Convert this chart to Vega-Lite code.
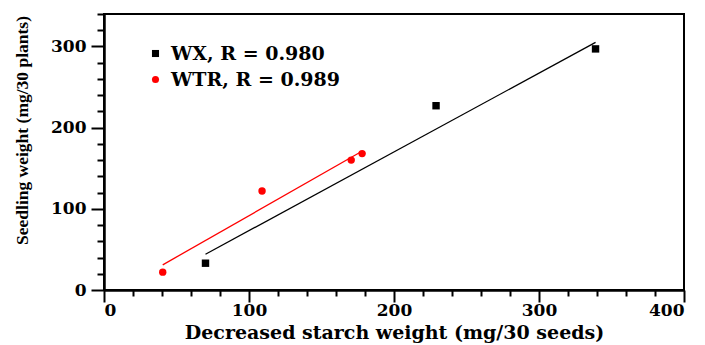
{
  "$schema": "https://vega.github.io/schema/vega-lite/v6.json",
  "width": 580,
  "height": 276,
  "autosize": "none",
  "padding": {"left": 104, "top": 14, "right": 21, "bottom": 55},
  "background": "white",
  "config": {
    "view": {"stroke": "black", "strokeWidth": 2},
    "axis": {
      "grid": false,
      "domainColor": "black",
      "domainWidth": 2.5,
      "tickColor": "black",
      "tickWidth": 2,
      "labelFont": "DejaVu Serif",
      "labelFontWeight": "bold",
      "labelFontSize": 17,
      "labelColor": "black",
      "labelOverlap": false,
      "labelBound": false,
      "titleFont": "Liberation Serif",
      "titleFontWeight": "bold",
      "titleColor": "black"
    }
  },
  "datasets": {
    "pts": [
      {"set": "WX", "x": 70, "y": 33},
      {"set": "WX", "x": 229, "y": 227},
      {"set": "WX", "x": 339, "y": 297},
      {"set": "WTR", "x": 40.5, "y": 22},
      {"set": "WTR", "x": 109, "y": 122},
      {"set": "WTR", "x": 170.5, "y": 160},
      {"set": "WTR", "x": 178, "y": 168}
    ],
    "fits": [
      {"set": "WX", "x": 70, "y": 44},
      {"set": "WX", "x": 339, "y": 305},
      {"set": "WTR", "x": 40.5, "y": 31},
      {"set": "WTR", "x": 177, "y": 170}
    ]
  },
  "encoding": {
    "x": {
      "field": "x",
      "type": "quantitative",
      "scale": {"domain": [0, 400], "nice": false, "zero": false},
      "axis": {
        "values": [0,20,40,60,80,100,120,140,160,180,200,220,240,260,280,300,320,340,360,380,400],
        "labelExpr": "(datum.value % 100 === 0) ? datum.label : ''",
        "tickSize": {"condition": {"test": "datum.value % 100 === 0", "value": 12}, "value": 6},
        "labelPadding": 0,
        "title": "Decreased starch weight (mg/30 seeds)",
        "titleFont": "DejaVu Serif",
        "titleFontSize": 19,
        "titleY": 33
      }
    },
    "y": {
      "field": "y",
      "type": "quantitative",
      "scale": {"domain": [0, 340], "nice": false, "zero": false},
      "axis": {
        "values": [0,20,40,60,80,100,120,140,160,180,200,220,240,260,280,300,320,340],
        "labelExpr": "(datum.value % 100 === 0) ? datum.label : ''",
        "tickSize": {"condition": {"test": "datum.value % 100 === 0", "value": 13}, "value": 7},
        "labelPadding": 5,
        "title": "Seedling weight (mg/30 plants)",
        "titleFontSize": 17.5,
        "titleX": -73,
        "titleY": 116
      }
    }
  },
  "layer": [
    {
      "data": {"name": "fits"},
      "transform": [{"filter": "datum.set === 'WX'"}],
      "mark": {"type": "line", "strokeWidth": 1.3, "color": "black"}
    },
    {
      "data": {"name": "fits"},
      "transform": [{"filter": "datum.set === 'WTR'"}],
      "mark": {"type": "line", "strokeWidth": 1.3, "color": "red"}
    },
    {
      "data": {"name": "pts"},
      "mark": {"type": "point", "filled": true, "opacity": 1, "size": 55},
      "encoding": {
        "color": {
          "field": "set",
          "type": "nominal",
          "scale": {"domain": ["WX", "WTR"], "range": ["black", "red"]},
          "legend": {
            "orient": "none",
            "legendX": 42,
            "legendY": 30,
            "title": null,
            "labelExpr": "datum.label === 'WX' ? 'WX, R = 0.980' : 'WTR, R = 0.989'",
            "labelFont": "DejaVu Serif",
            "labelFontWeight": "bold",
            "labelFontSize": 19,
            "labelLimit": 400,
            "labelColor": "black",
            "symbolSize": 50,
            "rowPadding": 6,
            "labelOffset": 6
          }
        },
        "shape": {
          "field": "set",
          "type": "nominal",
          "scale": {"domain": ["WX", "WTR"], "range": ["square", "circle"]},
          "legend": {
            "orient": "none",
            "legendX": 42,
            "legendY": 30,
            "title": null,
            "labelExpr": "datum.label === 'WX' ? 'WX, R = 0.980' : 'WTR, R = 0.989'",
            "labelFont": "DejaVu Serif",
            "labelFontWeight": "bold",
            "labelFontSize": 19,
            "labelLimit": 400,
            "labelColor": "black",
            "symbolSize": 50,
            "rowPadding": 6,
            "labelOffset": 6
          }
        }
      }
    }
  ]
}
